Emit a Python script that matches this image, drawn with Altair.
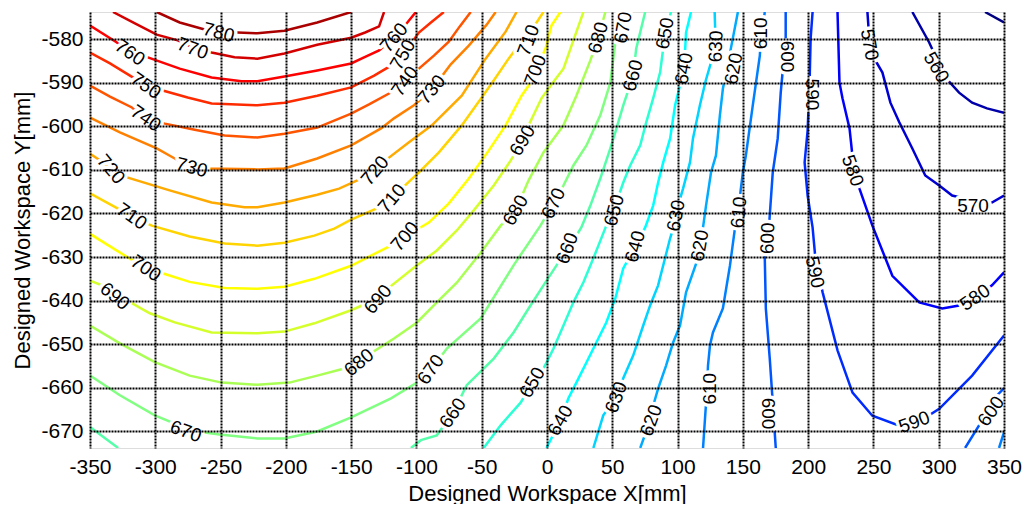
import altair as alt
import pandas as pd

X_TICKS = [-350, -300, -250, -200, -150, -100, -50, 0, 50, 100, 150, 200, 250, 300, 350]
Y_TICKS = [-580, -590, -600, -610, -620, -630, -640, -650, -660, -670]
X_DOMAIN = [-350, 350]
Y_DOMAIN = [-673.8, -573.8]

LEVELS = [550, 560, 570, 580, 590, 600, 610, 620, 630, 640, 650, 660, 670,
          680, 690, 700, 710, 720, 730, 740, 750, 760, 770, 780]
COLORS = ["#000080", "#0000AA", "#0000D4", "#0000FF", "#002BFF", "#0055FF",
          "#0080FF", "#00AAFF", "#00D4FF", "#00FFFF", "#2BFFD4", "#55FFAA",
          "#80FF80", "#AAFF55", "#D4FF2B", "#FFFF00", "#FFD400", "#FFAA00",
          "#FF8000", "#FF5500", "#FF2B00", "#FF0000", "#D40000", "#AA0000"]

C780 = [[-298.9, -573.8], [-281.3, -576.2], [-262.2, -577.8], [-251.5, -578.5], [-237.0, -578.5],
        [-221.8, -578.7], [-201.1, -578.1], [-176.0, -576.2], [-150.0, -573.8]]
C770 = [[-332.4, -573.8], [-315.6, -576.4], [-298.9, -579.0], [-282.8, -580.3], [-271.4, -581.9],
        [-256.9, -583.1], [-239.3, -584.2], [-221.8, -584.5], [-201.1, -583.3], [-176.0, -581.3],
        [-150.0, -579.7], [-139.3, -578.5], [-128.6, -577.1], [-124.8, -573.8]]
C760 = [[-350, -576.9], [-329.4, -580.8], [-319.5, -583.1], [-305.7, -584.2], [-281.3, -586.8],
        [-256.9, -588.8], [-234.0, -589.7], [-221.8, -589.7], [-201.1, -588.6], [-176.0, -587.2],
        [-150.0, -585.6], [-140.1, -584.2], [-128.6, -582.6], [-117.2, -579.7], [-108.8, -576.9],
        [-100.4, -573.8]]
C750 = [[-350, -583.1], [-334.7, -585.6], [-317.2, -588.8], [-307.3, -590.7], [-294.3, -591.8],
        [-275.2, -593.4], [-256.9, -594.8], [-221.8, -595.2], [-201.1, -594.6], [-176.0, -593.0],
        [-150.0, -591.1], [-132.4, -588.4], [-119.5, -586.1], [-110.3, -583.6], [-98.1, -578.5],
        [-88.9, -576.2], [-79.0, -573.8]]
C740 = [[-350, -590.7], [-334.7, -593.2], [-317.9, -595.7], [-307.3, -598.2], [-292.7, -599.4],
        [-269.8, -600.8], [-246.9, -602.1], [-221.8, -602.6], [-201.1, -601.7], [-176.0, -600.3],
        [-150.0, -597.1], [-136.3, -595.0], [-121.0, -592.5], [-108.8, -589.7], [-98.1, -586.8],
        [-86.6, -583.8], [-75.2, -580.6], [-66.8, -577.1], [-58.4, -573.8]]
C730 = [[-350, -598.0], [-327.1, -601.4], [-298.9, -605.1], [-285.1, -607.4], [-272.1, -609.5],
        [-260.0, -609.7], [-221.8, -609.9], [-201.1, -609.7], [-176.0, -607.4], [-150.0, -604.4],
        [-127.1, -600.5], [-117.2, -598.2], [-101.9, -595.2], [-88.2, -591.6], [-73.7, -585.8],
        [-59.9, -581.5], [-46.2, -576.7], [-39.3, -573.8]]
C720 = [[-350, -606.3], [-342.4, -607.8], [-334.0, -609.9], [-321.0, -611.8], [-289.0, -614.7],
        [-256.9, -617.5], [-231.7, -618.6], [-221.8, -618.6], [-201.1, -617.5], [-176.0, -615.7],
        [-159.2, -614.3], [-142.4, -612.0], [-131.7, -610.2], [-121.0, -607.2], [-105.7, -603.7],
        [-88.2, -599.8], [-65.3, -593.0], [-47.0, -584.5], [-31.7, -578.3], [-23.3, -573.8]]
C710 = [[-350, -615.4], [-328.6, -618.9], [-318.0, -620.7], [-302.7, -622.8], [-273.7, -625.3],
        [-246.9, -626.9], [-221.8, -627.4], [-201.1, -626.7], [-178.2, -625.1], [-162.9, -623.5],
        [-150.0, -621.4], [-128.6, -618.6], [-118.7, -616.6], [-109.5, -613.8], [-98.1, -610.6],
        [-82.8, -606.0], [-65.3, -599.8], [-50.0, -593.4], [-40.8, -589.5], [-29.4, -584.5],
        [-17.9, -579.9], [-8.0, -576.2], [-2.7, -573.8]]
C700 = [[-350, -624.7], [-321.0, -630.1], [-306.4, -632.6], [-292.7, -633.9], [-273.7, -635.7],
        [-246.9, -637.1], [-221.8, -637.3], [-201.1, -636.8], [-178.2, -635.0], [-150.0, -632.0],
        [-136.3, -629.9], [-119.5, -627.4], [-108.8, -625.3], [-90.5, -622.1], [-75.2, -617.7],
        [-59.9, -612.0], [-44.7, -605.6], [-31.7, -599.8], [-19.5, -593.0], [-11.8, -589.7],
        [-8.8, -587.2], [-1.1, -582.2], [3.4, -576.9], [10.3, -573.8]]
C690 = [[-350, -635.4], [-340.8, -636.5], [-331.0, -639.0], [-318.0, -640.6], [-304.2, -642.9],
        [-285.1, -645.0], [-256.9, -647.3], [-221.8, -647.5], [-201.1, -647.1], [-178.2, -645.2],
        [-150.0, -642.2], [-137.8, -640.6], [-129.4, -639.7], [-121.0, -637.0], [-99.6, -631.9],
        [-84.4, -628.5], [-69.1, -623.9], [-56.1, -619.3], [-40.8, -613.6], [-27.9, -607.9],
        [-18.7, -603.3], [-14.1, -599.8], [-4.2, -593.6], [5.7, -589.5], [12.6, -586.8],
        [20.2, -580.3], [27.9, -573.8]]
C680 = [[-350, -645.7], [-327.1, -649.8], [-300.4, -654.1], [-273.7, -657.2], [-249.2, -658.8],
        [-221.8, -659.3], [-197.3, -658.8], [-176.0, -657.2], [-153.1, -655.4], [-143.9, -654.2],
        [-134.0, -651.9], [-117.2, -648.7], [-99.6, -645.0], [-84.4, -640.4], [-69.1, -635.9],
        [-50.8, -629.0], [-35.5, -622.8], [-24.0, -619.3], [-14.1, -612.4], [-2.7, -606.0],
        [12.6, -599.8], [22.5, -593.0], [33.2, -584.9], [39.3, -579.7], [44.7, -573.8]]
C670 = [[-350, -657.2], [-327.1, -661.7], [-300.4, -666.3], [-287.4, -667.9], [-276.7, -670.0],
        [-263.7, -670.2], [-250.8, -670.7], [-221.8, -671.6], [-201.1, -671.6], [-176.0, -670.0],
        [-150.0, -666.8], [-119.5, -662.4], [-99.6, -658.8], [-88.9, -655.8], [-76.7, -651.0],
        [-50.8, -644.1], [-25.6, -631.9], [-5.0, -622.8], [5.0, -617.7], [12.6, -613.6],
        [20.2, -609.0], [30.2, -604.4], [40.8, -597.5], [48.5, -590.0], [52.3, -580.8],
        [58.4, -573.8]]
C660A = [[-350, -669.0], [-340.0, -671.2], [-328.4, -673.8]]
C660B = [[-104.2, -673.8], [-96.6, -672.0], [-84.4, -670.9], [-72.1, -665.8], [-61.5, -659.4],
         [-40.8, -653.3], [-25.6, -647.3], [-14.1, -641.8], [-2.7, -636.5], [7.3, -631.9],
         [15.6, -628.0], [20.2, -626.2], [26.3, -623.2], [33.2, -618.2], [40.8, -612.0],
         [48.5, -605.1], [52.3, -601.4], [58.4, -595.2], [66.0, -588.4], [68.3, -582.2],
         [75.2, -573.8]]
C650 = [[-48.5, -673.8], [-35.5, -668.6], [-20.2, -663.4], [-11.1, -658.8], [-2.7, -655.6],
        [5.0, -651.0], [12.6, -645.7], [20.2, -640.4], [27.9, -635.8], [35.5, -630.3],
        [45.4, -622.8], [52.3, -618.2], [58.4, -612.9], [63.7, -609.0], [71.4, -604.4],
        [76.0, -599.1], [81.3, -593.6], [86.6, -587.7], [90.5, -578.7], [95.0, -573.8]]
C640 = [[-0.4, -673.8], [10.3, -667.5], [16.4, -662.4], [22.5, -658.8], [30.2, -654.2],
        [37.8, -649.6], [45.4, -645.0], [52.3, -639.5], [58.4, -632.6], [67.6, -627.6],
        [75.2, -623.2], [81.3, -618.2], [85.1, -612.9], [89.0, -608.3], [94.3, -602.8],
        [98.1, -595.2], [105.0, -586.8], [106.5, -578.5], [110.3, -573.8]]
C630 = [[35.5, -673.8], [43.1, -666.3], [53.1, -662.2], [58.4, -657.8], [66.0, -652.6],
        [73.7, -645.7], [79.0, -641.1], [85.1, -636.5], [94.3, -625.7], [97.3, -622.8],
        [100.4, -618.2], [104.2, -614.3], [109.5, -608.3], [111.8, -602.8], [117.1, -595.2],
        [121.6, -589.5], [129.2, -581.7], [128.4, -573.8]]
C620 = [[71.4, -673.8], [79.0, -667.5], [81.3, -664.1], [85.1, -660.2], [91.2, -654.9],
        [96.6, -649.6], [101.9, -645.7], [106.5, -638.1], [115.6, -630.3], [117.2, -627.4],
        [119.5, -623.2], [121.8, -618.2], [125.6, -610.6], [129.4, -606.7], [132.4, -597.5],
        [134.7, -591.4], [140.8, -582.2], [146.2, -573.8]]
C610A = [[119.5, -673.8], [121.0, -667.1], [122.5, -660.6], [123.3, -654.9], [124.8, -650.3],
         [127.1, -647.3], [134.7, -641.8], [140.1, -632.0], [143.9, -623.5], [146.9, -618.2],
         [150.0, -610.6], [152.3, -606.7], [157.6, -595.2], [163.0, -583.8], [163.7, -580.3],
         [166.8, -573.8]]
C610B = [[346.2, -673.8], [350, -670.2]]
C600A = [[175.2, -673.8], [172.9, -663.4], [170.6, -653.3], [167.6, -641.8], [166.8, -630.4],
         [169.8, -623.9], [172.9, -610.6], [176.7, -602.8], [179.0, -592.3], [182.8, -579.9],
         [182.8, -573.8]]
C600B = [[320.2, -673.8], [330.9, -668.6], [340.8, -662.9], [350, -660.1]]
C590 = [[203.4, -573.8], [201.9, -579.9], [201.1, -590.0], [199.6, -601.0], [197.3, -608.3],
        [199.6, -615.9], [203.4, -623.2], [205.7, -630.8], [211.1, -638.1], [222.5, -651.4],
        [234.0, -661.1], [249.2, -666.4], [269.8, -668.7], [283.6, -668.0], [300.4, -664.8],
        [325.6, -657.2], [350, -648.0]]
C580 = [[222.5, -573.8], [224.0, -590.0], [226.3, -593.6], [231.7, -600.5], [234.7, -609.0],
        [239.3, -614.3], [249.2, -622.8], [264.5, -634.3], [285.1, -640.4], [302.7, -641.8],
        [315.6, -641.1], [327.9, -639.3], [340.8, -636.5], [350, -633.5]]
C570 = [[245.4, -573.8], [246.9, -580.3], [251.5, -584.9], [256.9, -587.7], [263.0, -594.6],
        [269.8, -599.1], [276.0, -602.8], [279.8, -605.1], [289.7, -611.3], [300.4, -613.6],
        [310.3, -615.9], [325.6, -617.0], [340.8, -617.5], [350, -615.9]]
C560 = [[279.8, -573.8], [292.7, -580.8], [305.0, -588.8], [315.6, -592.3], [325.6, -594.6],
        [337.0, -595.9], [350, -596.9]]
C550 = [[335.5, -573.8], [350, -576.2]]

CONTOURS = [("c780", 780, C780), ("c770", 770, C770), ("c760", 760, C760), ("c750", 750, C750),
            ("c740", 740, C740), ("c730", 730, C730), ("c720", 720, C720), ("c710", 710, C710),
            ("c700", 700, C700), ("c690", 690, C690), ("c680", 680, C680), ("c670", 670, C670),
            ("c660a", 660, C660A), ("c660b", 660, C660B), ("c650", 650, C650), ("c640", 640, C640),
            ("c630", 630, C630), ("c620", 620, C620), ("c610a", 610, C610A), ("c610b", 610, C610B),
            ("c600a", 600, C600A), ("c600b", 600, C600B), ("c590", 590, C590), ("c580", 580, C580),
            ("c570", 570, C570), ("c560", 560, C560), ("c550", 550, C550)]

LABEL_TEXT = ["780", "770", "760", "750", "740", "730", "720", "710", "700", "690", "670",
              "760", "750", "740", "730", "720", "710", "700", "690", "680", "670", "660", "650",
              "710", "700", "690", "680",
              "680", "670", "660", "650", "640", "630", "620", "610",
              "670", "650", "630", "610", "600",
              "660", "640", "620",
              "640", "630", "620", "610", "600",
              "600", "590", "590", "580", "570", "560", "570", "580", "590", "600"]
LABEL_X = [-251.5, -271.4, -319.5, -307.3, -307.3, -272.1, -334.0, -318.0, -307.3, -331.0, -276.7,
           -117.2, -110.3, -108.8, -88.2, -131.7, -118.7, -108.8, -129.4, -143.9, -88.9, -72.1, -11.1,
           -14.1, -8.8, -18.7, -24.0,
           39.3, 58.4, 66.0, 90.5, 105.0, 129.4, 143.1, 163.7,
           5.0, 51.5, 98.9, 147.0, 169.1,
           15.6, 67.6, 117.2,
           10.3, 53.1, 79.8, 124.8, 169.1,
           183.6, 202.7, 205.0, 234.0, 246.9, 298.1, 326.3, 327.9, 281.3, 340.1]
LABEL_Y = [-578.5, -582.2, -583.1, -590.7, -598.2, -609.5, -609.9, -620.7, -632.6, -639.0, -670.0,
           -579.7, -583.6, -589.7, -591.6, -610.2, -616.6, -625.3, -639.7, -654.2, -655.8, -665.8, -658.8,
           -580.3, -587.2, -603.3, -619.3,
           -579.7, -577.4, -588.4, -578.7, -586.8, -581.7, -586.8, -578.7,
           -617.7, -619.3, -620.5, -619.8, -625.7,
           -628.0, -627.6, -627.4,
           -667.5, -662.2, -667.5, -660.2, -665.9,
           -584.0, -592.7, -633.5, -610.2, -581.3, -586.5, -618.2, -639.3, -667.9, -665.4]
LABEL_ANGLE = [15, 20, 35, 35, 35, 15, 50, 35, 35, 40, 20,
               -50, -60, -55, -50, -50, -50, -50, -50, -40, -55, -55, -60,
               -70, -70, -60, -60,
               -75, -80, -75, -80, -80, -88, -80, -90,
               -65, -75, -80, -85, -88,
               -70, -75, -80,
               -60, -70, -70, -90, 90,
               90, 90, 78, 70, 80, 60, 0, -35, -20, -55]

rows = []
for seg, level, pts in CONTOURS:
    for i, (px, py) in enumerate(pts):
        rows.append({"seg": seg, "level": level, "i": i, "x": px, "y": py})
lines_df = pd.DataFrame(rows)

labels_df = pd.DataFrame({
    "t": LABEL_TEXT,
    "x": LABEL_X,
    "y": LABEL_Y,
    "a": [a % 360 for a in LABEL_ANGLE],
})

FONT = "Liberation Sans"
xs = alt.Scale(domain=X_DOMAIN, nice=False, zero=False)
ys = alt.Scale(domain=Y_DOMAIN, nice=False, zero=False)

axis_common = dict(
    grid=True, gridColor="black", gridDash=[2, 1], gridWidth=2, gridOpacity=1,
    ticks=False, domain=False, labelFont=FONT, labelFontSize=21, labelColor="black",
    titleFont=FONT, titleFontSize=22, titleFontWeight="normal", titleColor="black",
    zindex=1, labelOverlap=False, labelFlush=False, labelBound=False,
    labelExpr="toString(datum.value)",
)

x_enc = alt.X("x:Q", scale=xs,
              axis=alt.Axis(values=X_TICKS, labelPadding=8, titlePadding=6, **axis_common),
              title="Designed Workspace X[mm]")
y_enc = alt.Y("y:Q", scale=ys,
              axis=alt.Axis(values=Y_TICKS, labelPadding=7, titlePadding=6, **axis_common),
              title="Designed Workspace Y[mm]")

lines = alt.Chart(lines_df).mark_line(strokeWidth=2.5, clip=True).encode(
    x=x_enc, y=y_enc,
    color=alt.Color("level:O", scale=alt.Scale(domain=LEVELS, range=COLORS), legend=None),
    detail="seg:N",
    order="i:Q",
)

halo = alt.Chart(labels_df).mark_text(
    font=FONT, fontSize=19, fill="white", stroke="white", strokeWidth=7,
    strokeJoin="round", align="center", baseline="middle",
).encode(
    x=alt.X("x:Q", scale=xs), y=alt.Y("y:Q", scale=ys),
    text="t:N", angle=alt.Angle("a:Q", scale=None),
)

text = alt.Chart(labels_df).mark_text(
    font=FONT, fontSize=19, color="black", align="center", baseline="middle",
).encode(
    x=alt.X("x:Q", scale=xs), y=alt.Y("y:Q", scale=ys),
    text="t:N", angle=alt.Angle("a:Q", scale=None),
)

chart = alt.layer(lines, halo, text).properties(
    width=914, height=436,
    autosize=alt.AutoSizeParams(type="none"),
    padding={"left": 82, "top": 4, "right": 20, "bottom": 56},
).configure_view(
    stroke="black", strokeWidth=2, strokeDash=[2, 1],
).configure(background="white")

chart.save("out.html", embed_options={"renderer": "svg", "actions": False})
